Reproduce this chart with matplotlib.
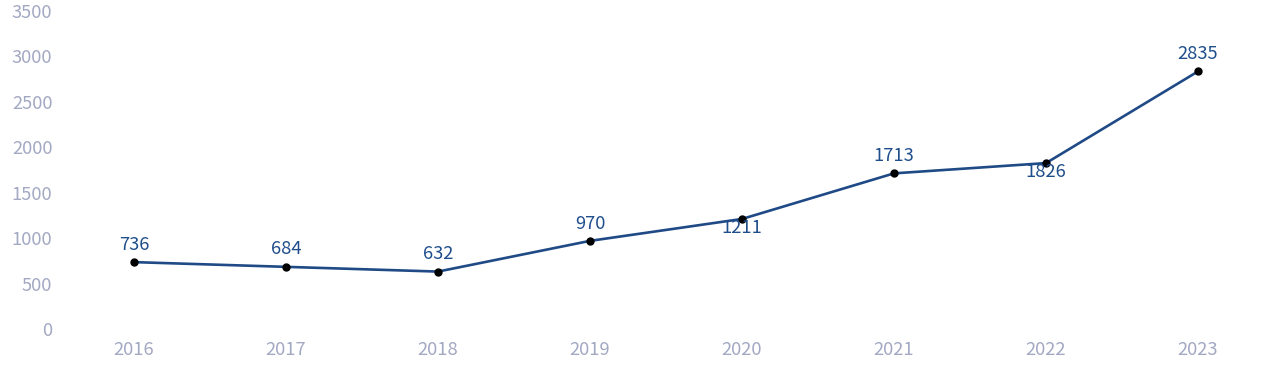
import matplotlib.pyplot as plt

plt.rcParams['font.family'] = ['Noto Sans CJK SC', 'DejaVu Sans']

years = [2016, 2017, 2018, 2019, 2020, 2021, 2022, 2023]
values = [736, 684, 632, 970, 1211, 1713, 1826, 2835]
label_pos = ['up', 'up', 'up', 'up', 'down', 'up', 'down', 'up']
y_ticks = [0, 500, 1000, 1500, 2000, 2500, 3000, 3500]

line_color = '#1f4a86'
label_color = '#1f4e8c'
tick_color = '#a3a8c3'

fig = plt.figure(figsize=(12.8, 3.82), dpi=100)
ax = fig.add_axes([60 / 1280, 53 / 382, 1220 / 1280, 318 / 382])

ax.plot(years, values, color=line_color, lw=1.9, zorder=2)
ax.plot(years, values, 'o', color='black', ms=5, zorder=3)

for x, v, p in zip(years, values, label_pos):
    dy = 12.5 if p == 'up' else -6.5
    ax.annotate(str(v), (x, v), xytext=(0, dy), textcoords='offset points',
                ha='center', va='center', fontsize=13.2, color=label_color)

ax.set_xlim(2016 - 74 / 152, 2023 + 82 / 152)
ax.set_ylim(0, 3500)
ax.set_xticks(years)
ax.set_yticks(y_ticks)
ax.tick_params(length=0, labelsize=13.2, labelcolor=tick_color)
ax.tick_params(axis='x', pad=8.5)
ax.tick_params(axis='y', pad=5.5)
for s in ax.spines.values():
    s.set_visible(False)

fig.savefig('out.png', dpi=100)
